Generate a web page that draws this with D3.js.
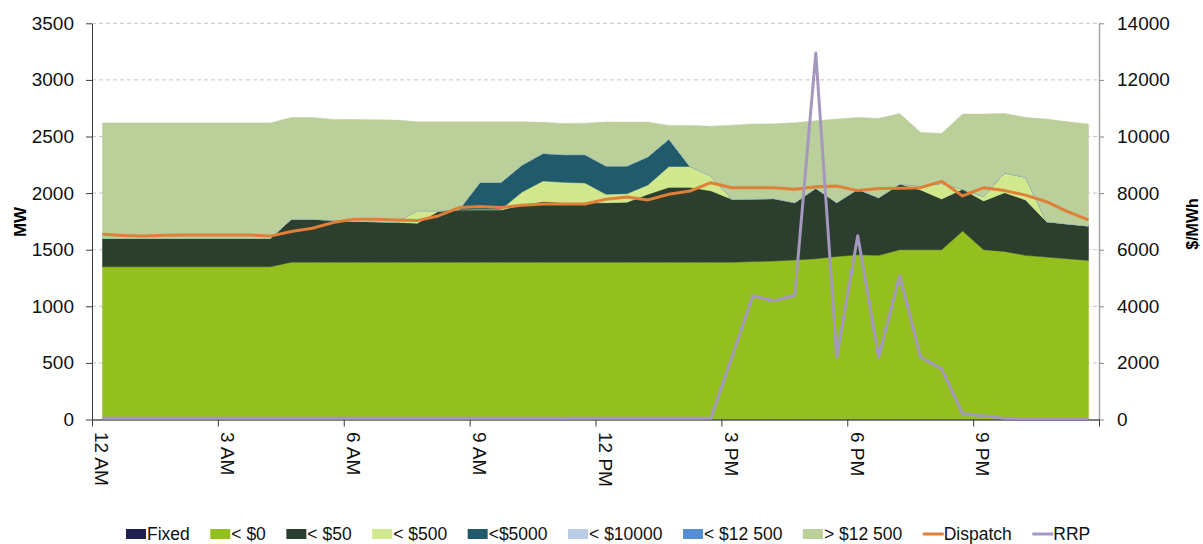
<!DOCTYPE html>
<html>
<head>
<meta charset="utf-8">
<script src="https://d3js.org/d3.v7.min.js"></script>
<style>
  body { margin: 0; background: #fff; }
  svg { font-family: "Liberation Sans", Arial, sans-serif; display: block; }
</style>
</head>
<body>
<svg></svg>
<script>
// half-hourly intervals, 12 AM .. 11:30 PM (48 points)
var timeLabels = ["12 AM", "3 AM", "6 AM", "9 AM", "12 PM", "3 PM", "6 PM", "9 PM"];
var mwTicks = [0, 500, 1000, 1500, 2000, 2500, 3000, 3500];
var priceTicks = [0, 2000, 4000, 6000, 8000, 10000, 12000, 14000];

var fixedMW = [0,0,0,0,0,0,0,0,0,0,0,0,0,0,0,0,0,0,0,0,0,0,0,0,0,0,0,0,0,0,0,0,0,0,0,0,0,0,0,0,0,0,0,0,0,0,0,0];
var below0 = [1350,1350,1350,1350,1350,1350,1350,1350,1350,
  1390,1390,1390,1390,1390,1390,1390,1390,1390,1390,1390,1390,1390,1390,1390,1390,1390,1390,1390,1390,1390,1390,
  1395,1400,1410,1420,1440,1455,1450,1500,1500,1500,1665,1500,1485,1450,1435,1420,1405];
var below50 = [250,250,250,250,250,250,250,250,250,
  380,380,370,360,358,352,344,447,461,461,461,505,535,525,525,525,530,600,661,661,630,555,
  553,552,506,623,476,580,510,580,528,448,369,431,519,490,313,308,305];
var below500 = [0,0,0,0,0,0,0,0,0,0,0,0,0,0,0,
  111,8,4,6,6,115,182,180,175,75,75,82,184,184,132,
  0,0,0,0,0,0,0,0,0,35,138,0,38,176,200,0,0,0];
var below5000 = [0,0,0,0,0,0,0,0,0,0,0,0,0,0,0,0,0,0,
  239,239,239,244,245,250,250,245,250,242,
  0,0,0,0,0,0,0,0,0,0,0,0,0,0,0,0,0,0,0,0];
var below10000 = [0,0,0,0,0,0,0,0,0,0,0,0,0,0,0,0,0,0,0,0,0,0,0,0,0,0,0,0,0,0,0,0,0,0,0,0,0,0,0,0,0,0,0,0,0,0,0,0];
var below12500 = [0,0,0,0,0,0,0,0,0,0,0,0,0,0,0,0,0,0,0,0,0,0,0,0,0,0,0,0,0,0,0,0,0,0,0,0,0,0,0,0,0,0,0,0,0,0,0,0];
var above12500 = [1020,1020,1020,1020,1020,1020,1020,1020,1020,
  898,898,891,900,900,903,785,785,775,534,534,381,274,275,278,388,387,305,121,363,438,655,
  662,660,705,596,738,633,700,624,473,441,664,729,524,528,906,902,900];
var dispatch = [1637,1625,1622,1628,1630,1630,1630,1630,1620,1660,
  1690,1740,1770,1768,1763,1757,1798,1872,1881,1872,
  1893,1904,1904,1904,1945,1965,1940,1990,2018,2092,
  2048,2048,2048,2034,2057,2063,2022,2040,2043,2048,
  2104,1975,2048,2022,1982,1924,1837,1763];
var rrp = [40,40,40,40,40,40,40,40,40,40,40,40,40,40,40,40,40,40,40,40,40,40,40,40,40,40,40,40,40,
  45,2200,4372,4196,4383,12950,2200,6490,2200,5080,2200,1790,205,130,40,35,35,35,35];

var bands = [
  {key: "fixed",   name: "Fixed",     color: "#1f1f50", values: fixedMW},
  {key: "lt0",     name: "< $0",      color: "#93c01f", values: below0},
  {key: "lt50",    name: "< $50",     color: "#2c3e2e", values: below50},
  {key: "lt500",   name: "< $500",    color: "#d1e98c", values: below500},
  {key: "lt5000",  name: "<$5000",    color: "#215a6b", values: below5000},
  {key: "lt10000", name: "< $10000",  color: "#b9cde5", values: below10000},
  {key: "lt12500", name: "< $12 500", color: "#558ed5", values: below12500},
  {key: "gt12500", name: "> $12 500", color: "#bacf9a", values: above12500}
];
var dispatchColor = "#e07f38", rrpColor = "#a598be";

var width = 1203, height = 544;
var plotL = 92, plotR = 1099, plotT = 23.3, plotB = 419.5;

var svg = d3.select("svg").attr("width", width).attr("height", height);

var rows = dispatch.map(function (d, i) {
  var r = {i: i};
  bands.forEach(b => r[b.key] = b.values[i]);
  return r;
});
var series = d3.stack().keys(bands.map(b => b.key))(rows);

var xb = d3.scaleBand().domain(rows.map(r => r.i)).range([plotL, plotR]);
var xc = i => xb(i) + xb.bandwidth() / 2;
var xt = d3.scaleLinear().domain([0, rows.length]).range([plotL, plotR]);
var y = d3.scaleLinear().domain([0, 3500]).range([plotB, plotT]);
var y2 = d3.scaleLinear().domain([0, 14000]).range([plotB, plotT]);

// gridlines
svg.append("g").selectAll("line")
  .data(mwTicks.slice(1))
  .join("line")
  .attr("x1", plotL).attr("x2", plotR)
  .attr("y1", d => y(d)).attr("y2", d => y(d))
  .attr("stroke", "#c4c4c4")
  .attr("stroke-dasharray", "4,3");

// stacked areas
var area = d3.area()
  .x(d => xc(d.data.i))
  .y0(d => y(d[0]))
  .y1(d => y(d[1]));

svg.append("g").selectAll("path")
  .data(series)
  .join("path")
  .attr("d", area)
  .attr("fill", (s, k) => bands[k].color)
  .attr("stroke", (s, k) => bands[k].color)
  .attr("stroke-width", 0.5);

// axes
var plain = d3.format("d");
var gl = svg.append("g").attr("transform", "translate(" + plotL + ",0)")
  .call(d3.axisLeft(y).tickValues(mwTicks).tickFormat(plain).tickSize(6).tickSizeOuter(0).tickPadding(12));
var gr = svg.append("g").attr("transform", "translate(" + plotR + ",0)")
  .call(d3.axisRight(y2).tickValues(priceTicks).tickFormat(plain).tickSize(5).tickSizeOuter(0).tickPadding(13));
var gb = svg.append("g").attr("transform", "translate(0," + plotB + ")")
  .call(d3.axisBottom(xt).tickValues(d3.range(0, rows.length + 1, 6)).tickSize(7).tickSizeOuter(0).tickFormat(""));

gl.select(".domain").attr("stroke", "#3a3a3a");
gl.selectAll(".tick line").attr("stroke", "#3a3a3a");
gr.select(".domain").attr("stroke", "#a6a6a6").attr("stroke-width", 1.5);
gr.selectAll(".tick line").attr("stroke", "#8a8a8a");
gb.select(".domain").attr("stroke", "#555").attr("stroke-width", 1.5);
gb.selectAll(".tick line").attr("stroke", "#3a3a3a");
svg.selectAll(".tick text").attr("font-size", 19).attr("fill", "#111")
  .attr("font-family", "'Liberation Sans', Arial, sans-serif");

// rotated time labels
svg.append("g").selectAll("text")
  .data(timeLabels)
  .join("text")
  .attr("transform", (t, k) => "translate(" + (xt(k * 6) + 10) + ",432) rotate(90)")
  .attr("dy", "0.35em")
  .attr("font-size", 19)
  .attr("fill", "#111")
  .text(t => t);

// lines
var dispLine = d3.line().x((d, i) => xc(i)).y(d => y(d));
var rrpLine = d3.line().x((d, i) => xc(i)).y(d => y2(d));

svg.append("path").datum(dispatch)
  .attr("d", dispLine).attr("fill", "none")
  .attr("stroke", dispatchColor).attr("stroke-width", 3).attr("stroke-linejoin", "round");
svg.append("path").datum(rrp)
  .attr("d", rrpLine).attr("fill", "none")
  .attr("stroke", rrpColor).attr("stroke-width", 3).attr("stroke-linejoin", "round");

// axis titles
svg.append("text").attr("transform", "translate(20,222) rotate(-90)")
  .attr("text-anchor", "middle").attr("dy", "0.35em")
  .attr("font-weight", "bold").attr("font-size", 17).text("MW");
svg.append("text").attr("transform", "translate(1192,224) rotate(-90)")
  .attr("text-anchor", "middle").attr("dy", "0.35em")
  .attr("font-weight", "bold").attr("font-size", 16).text("$/MWh");

// legend
var legendItems = bands.map(b => ({name: b.name, color: b.color, type: "box"}))
  .concat([{name: "Dispatch", color: dispatchColor, type: "line"},
           {name: "RRP", color: rrpColor, type: "line"}]);
var lx = 126, ly = 534;
legendItems.forEach(function (it) {
  var g = svg.append("g").attr("transform", "translate(" + lx + "," + ly + ")");
  if (it.type === "box") {
    g.append("rect").attr("x", 0).attr("y", -5).attr("width", 20).attr("height", 10).attr("fill", it.color);
  } else {
    g.append("line").attr("x1", 0).attr("x2", 21).attr("y1", 0).attr("y2", 0)
      .attr("stroke", it.color).attr("stroke-width", 3);
  }
  var t = g.append("text").attr("x", 21).attr("dy", "0.35em")
    .attr("font-size", 17.5).attr("fill", "#111").text(it.name);
  lx += 21 + t.node().getComputedTextLength() + 20.5;
});
</script>
</body>
</html>
